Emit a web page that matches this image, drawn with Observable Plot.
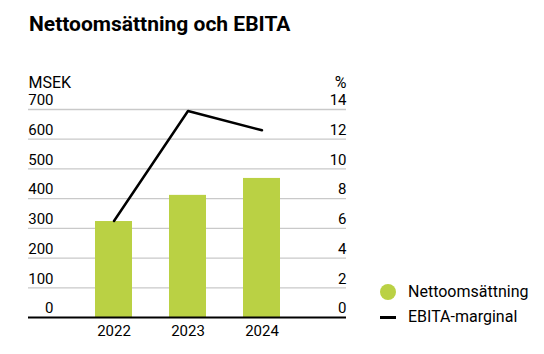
<!DOCTYPE html>
<html>
<head>
<meta charset="utf-8">
<script src="https://cdn.jsdelivr.net/npm/d3@7"></script>
<script src="https://cdn.jsdelivr.net/npm/@observablehq/plot@0.6"></script>
<style>
  body { margin: 0; background: #fff; }
  #wrap { position: relative; width: 544px; height: 354px; font-family: Roboto, "Liberation Sans", sans-serif; }
  #title { position: absolute; left: 29px; top: 12px; font-size: 21px; font-weight: 700; color: #000; }
  .leg { position: absolute; left: 408px; font-size: 16px; color: #000; line-height: 18px; }
  .sw { position: absolute; }
</style>
</head>
<body>
<div id="wrap">
  <div id="title">Nettoomsättning och EBITA</div>
  <div id="chart"></div>
  <div class="sw" style="left:380px;top:284px;width:16px;height:16px;border-radius:50%;background:#bad144"></div>
  <div class="leg" style="top:283px">Nettoomsättning</div>
  <div class="sw" style="left:380px;top:316px;width:16px;height:3px;background:#000"></div>
  <div class="leg" style="top:308px">EBITA-marginal</div>
</div>
<script>
const years = ["2022", "2023", "2024"];
const netSales = [323, 411, 468];
const ebitaMargin = [6.5, 13.9, 12.6];
const leftTicks = [0, 100, 200, 300, 400, 500, 600, 700];
const rightTicks = [0, 2, 4, 6, 8, 10, 12, 14];
const pctToMsek = 50;

const data = years.map((y, i) => ({year: y, sales: netSales[i], pct: ebitaMargin[i]}));

const plot = Plot.plot({
  width: 544,
  height: 354,
  marginTop: 109,
  marginBottom: 37,
  marginLeft: 28,
  marginRight: 198,
  style: {fontFamily: "Roboto, 'Liberation Sans', sans-serif", fontSize: "15px", color: "#000", background: "transparent"},
  x: {domain: years, range: [76, 298], paddingInner: 0.5, paddingOuter: 0.25, axis: null},
  y: {domain: [0, 700], axis: null},
  marks: [
    Plot.ruleY(leftTicks.filter(d => d > 0), {stroke: "#c9c9c9", strokeWidth: 1.3}),
    Plot.barY(data, {x: "year", y: "sales", fill: "#bad144"}),
    Plot.ruleY([0], {stroke: "#000", strokeWidth: 2}),
    Plot.line(data, {x: "year", y: d => d.pct * pctToMsek, stroke: "#000", strokeWidth: 2.5}),
    Plot.text(leftTicks, {y: d => d, text: d => String(d), frameAnchor: "left", dx: 25, textAnchor: "end", dy: -9, fontSize: 15, fill: "#000"}),
    Plot.text(rightTicks, {y: d => d * pctToMsek, text: d => String(d), frameAnchor: "right", textAnchor: "end", dy: -9, fontSize: 15, fill: "#000"}),
    Plot.text(["MSEK"], {frameAnchor: "top-left", textAnchor: "start", dy: -33, fontSize: 16, fill: "#000"}),
    Plot.text(["%"], {frameAnchor: "top-right", textAnchor: "end", dy: -33, fontSize: 16, fill: "#000"}),
    Plot.text(years, {x: d => d, text: d => d, frameAnchor: "bottom", dy: 18, fontSize: 15, fill: "#000"})
  ]
});
document.getElementById("chart").appendChild(plot);
</script>
</body>
</html>
